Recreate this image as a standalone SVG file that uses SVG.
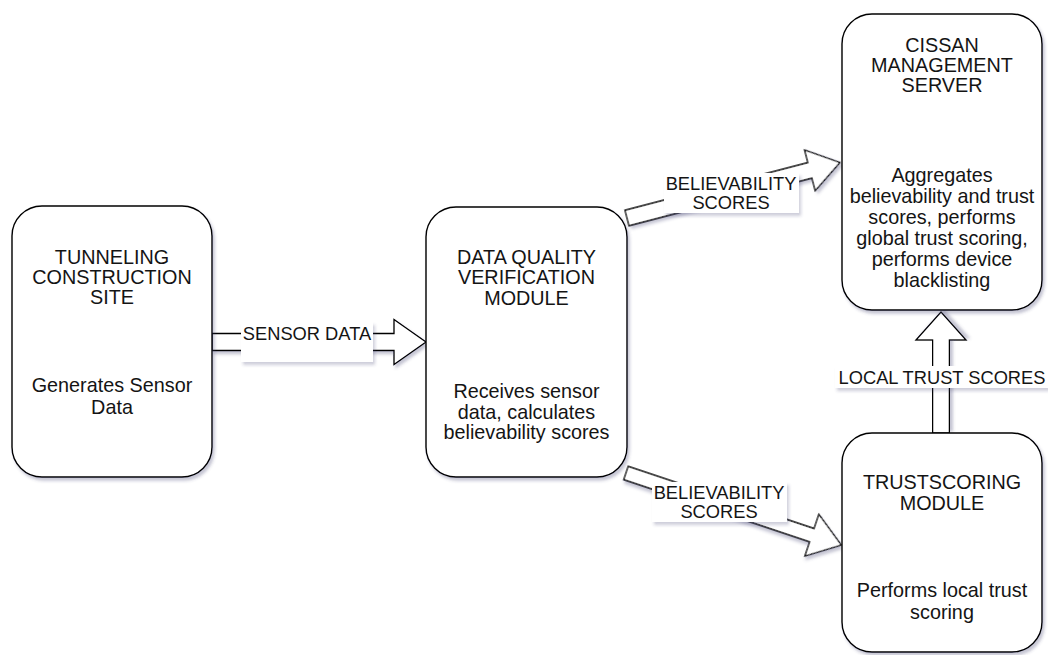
<svg xmlns="http://www.w3.org/2000/svg" width="1048" height="655" viewBox="0 0 1048 655">
<style>
.box{fill:#fff;stroke:#000;stroke-width:1.4;filter:url(#sh)}
.arr{fill:#fff;stroke:#000;stroke-width:1.3;stroke-linejoin:miter;filter:url(#sh)}
.lbg{fill:#fff;filter:url(#sh2)}
.t{font-family:"Liberation Sans",Arial,sans-serif;font-size:19.8px;fill:#141414;text-anchor:middle}
.l{font-family:"Liberation Sans",Arial,sans-serif;font-size:18.3px;fill:#141414;text-anchor:middle}
</style>
<defs>
<filter id="sh" x="-20%" y="-20%" width="140%" height="140%"><feDropShadow dx="2" dy="3" stdDeviation="1.6" flood-color="#404070" flood-opacity="0.3"/></filter>
<filter id="sh2" x="-20%" y="-30%" width="140%" height="160%"><feDropShadow dx="2" dy="3" stdDeviation="1.6" flood-color="#404070" flood-opacity="0.25"/></filter>
</defs>
<rect width="1048" height="655" fill="#fff"/>
<g id="connectors">
<g id="c1">
<path class="arr" transform="translate(212,342)" d="M0,-8.5 L182,-8.5 L182,-22.5 L214,0 L182,22.5 L182,8.5 L0,8.5 Z"/>
<rect class="lbg" x="241" y="322" width="132" height="40"/>
<text class="l" x="307" y="339.5">SENSOR DATA</text>
</g>
<g id="c2">
<path class="arr" transform="translate(627,218) rotate(-14.6)" d="M0,-8 L189,-8 L189,-21 L220,0 L189,21 L189,8 L0,8 Z"/>
<rect class="lbg" x="664" y="173" width="135" height="40"/>
<text class="l" x="731" y="189.5">BELIEVABILITY</text>
<text class="l" x="731" y="208.5">SCORES</text>
</g>
<g id="c3">
<path class="arr" transform="translate(626,473) rotate(18.5)" d="M0,-7 L196,-7 L196,-22 L227,0 L196,22 L196,7 L0,7 Z"/>
<rect class="lbg" x="652" y="482" width="135" height="40"/>
<text class="l" x="719" y="498.5">BELIEVABILITY</text>
<text class="l" x="719" y="517.5">SCORES</text>
</g>
<g id="c4">
<path class="arr" transform="translate(941,433) rotate(-90)" d="M0,-8.3 L93,-8.3 L93,-25 L121,0 L93,25 L93,8.3 L0,8.3 Z"/>
<rect class="lbg" x="835" y="366" width="213" height="22"/>
<text class="l" x="942" y="383.5">LOCAL TRUST SCORES</text>
</g>
</g>
<g id="tunneling">
<rect class="box" x="12" y="206" width="200" height="271" rx="30" ry="30"/>
<text class="t" x="112" y="264">TUNNELING</text>
<text class="t" x="112" y="284">CONSTRUCTION</text>
<text class="t" x="112" y="304">SITE</text>
<text class="t" x="112" y="392">Generates Sensor</text>
<text class="t" x="112" y="414">Data</text>
</g>
<g id="dqv">
<rect class="box" x="426" y="207" width="201" height="270" rx="30" ry="30"/>
<text class="t" x="526.5" y="264">DATA QUALITY</text>
<text class="t" x="526.5" y="284">VERIFICATION</text>
<text class="t" x="526.5" y="305">MODULE</text>
<text class="t" x="526.5" y="398">Receives sensor</text>
<text class="t" x="526.5" y="418.5">data, calculates</text>
<text class="t" x="526.5" y="439">believability scores</text>
</g>
<g id="cissan">
<rect class="box" x="842" y="14" width="200" height="296" rx="30" ry="30"/>
<text class="t" x="942" y="52">CISSAN</text>
<text class="t" x="942" y="72">MANAGEMENT</text>
<text class="t" x="942" y="92">SERVER</text>
<text class="t" x="942" y="182">Aggregates</text>
<text class="t" x="942" y="203">believability and trust</text>
<text class="t" x="942" y="224">scores, performs</text>
<text class="t" x="942" y="245">global trust scoring,</text>
<text class="t" x="942" y="266">performs device</text>
<text class="t" x="942" y="287">blacklisting</text>
</g>
<g id="trustscoring">
<rect class="box" x="842" y="433" width="200" height="219" rx="30" ry="30"/>
<text class="t" x="942" y="489">TRUSTSCORING</text>
<text class="t" x="942" y="510">MODULE</text>
<text class="t" x="942" y="597">Performs local trust</text>
<text class="t" x="942" y="619">scoring</text>
</g>
</svg>
